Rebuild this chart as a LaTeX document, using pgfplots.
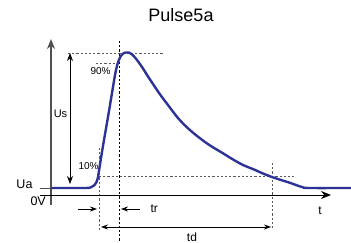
\documentclass[border=0pt]{standalone}
\usepackage{fontspec}
\setmainfont{Liberation Sans}
\usepackage{pgfplots}
\pgfplotsset{compat=1.18}
\usetikzlibrary{arrows.meta}
\definecolor{pulseblue}{RGB}{44,50,150}
\definecolor{axgray}{RGB}{80,80,80}
\definecolor{dotgray}{RGB}{90,90,90}
\begin{document}
\begin{tikzpicture}
\useasboundingbox (0,0) rectangle (351pt,242pt);
\begin{axis}[
  at={(0,0)}, anchor=south west,
  width=351pt, height=242pt, scale only axis,
  xmin=0, xmax=351, ymin=0, ymax=242,
  hide axis, clip=false,
  every node/.style={inner sep=0pt, font=\fontsize{11}{13}\selectfont},
]
% dotted guide lines
\addplot[dotgray, line width=0.9pt, dash pattern=on 2.2pt off 2pt] coordinates {(68,189) (163,189)};
\addplot[dotgray, line width=0.9pt, dash pattern=on 2.2pt off 2pt] coordinates {(96,179) (120,179)};
\addplot[black, line width=0.9pt, dash pattern=on 2.2pt off 2pt] coordinates {(119,201) (119,0)};
\addplot[dotgray, line width=0.9pt, dash pattern=on 2.2pt off 2pt] coordinates {(99,94) (99,12)};
\addplot[dotgray, line width=0.9pt, dash pattern=on 2.2pt off 2pt] coordinates {(99,65.5) (295,65.5)};
\addplot[dotgray, line width=0.9pt, dash pattern=on 2.2pt off 2pt] coordinates {(272,79) (272,13)};
% axes
\addplot[axgray, line width=1.6pt, -{Stealth[length=10pt,width=8pt]}] coordinates {(51,37) (51,203)};
\addplot[black, line width=1pt, -{Stealth[length=10pt,width=8pt]}] coordinates {(40,47) (331,47)};
\addplot[axgray, line width=1pt] coordinates {(40,54) (51,54)};
% Us arrow
\addplot[black, line width=0.8pt, {Stealth[length=8pt,width=6pt]}-{Stealth[length=8pt,width=6pt]}] coordinates {(70,58) (70,189)};
% tr arrows
\addplot[black, line width=0.8pt, -{Stealth[length=7pt,width=5pt]}] coordinates {(78,33) (97,33)};
\addplot[black, line width=0.8pt, -{Stealth[length=7pt,width=5pt]}] coordinates {(140,33) (121,33)};
% td arrow
\addplot[black, line width=0.8pt, {Stealth[length=7pt,width=5pt]}-{Stealth[length=7pt,width=5pt]}] coordinates {(101,15) (271,15)};
% pulse
\addplot[pulseblue, line width=2.4pt, smooth, tension=0.4] coordinates {
(51,54) (86,54) (91,54.8) (94,56.5) (96.5,60) (98,65) (101,84) (104,102) (108,125)
(112,149) (115,167) (117.5,178) (120,184.5) (122.5,188) (125.5,189.5) (128.5,189.5)
(131.5,188) (135,184.5) (138.5,180) (143,173.5) (148,165.5) (153,158) (158,150.5)
(163,143.5) (168,137) (173,130.3) (178,124) (183,118.5) (188,113.7) (193,109.3)
(198,105.3) (205,100) (212,95.3) (223,88.7) (233,82.5) (243,77) (254,72.5) (263,68.5)
(272,65) (281,62) (289,59.5) (296,57) (302,55) (308,54) (351,54)};
% labels
\node[anchor=base, font=\fontsize{18}{20}\selectfont] at (axis cs:181,221) {Pulse5a};
\node[anchor=base east, font=\fontsize{12.5}{14}\selectfont] at (axis cs:36,54) {Ua};
\node[anchor=base west, font=\fontsize{12.5}{14}\selectfont] at (axis cs:27,37) {0V};
\node[anchor=center, font=\fontsize{11}{13}\selectfont] at (axis cs:60.5,128) {Us};
\node[anchor=base west, font=\fontsize{10}{12}\selectfont] at (axis cs:87,168) {90\%};
\node[anchor=base west, font=\fontsize{10}{12}\selectfont] at (axis cs:75,73) {10\%};
\node[anchor=base west, font=\fontsize{12}{14}\selectfont] at (axis cs:147,30) {tr};
\node[anchor=base, font=\fontsize{12}{14}\selectfont] at (axis cs:192,1) {td};
\node[anchor=base, font=\fontsize{12}{14}\selectfont] at (axis cs:320,28) {t};
\end{axis}
\end{tikzpicture}
\end{document}
